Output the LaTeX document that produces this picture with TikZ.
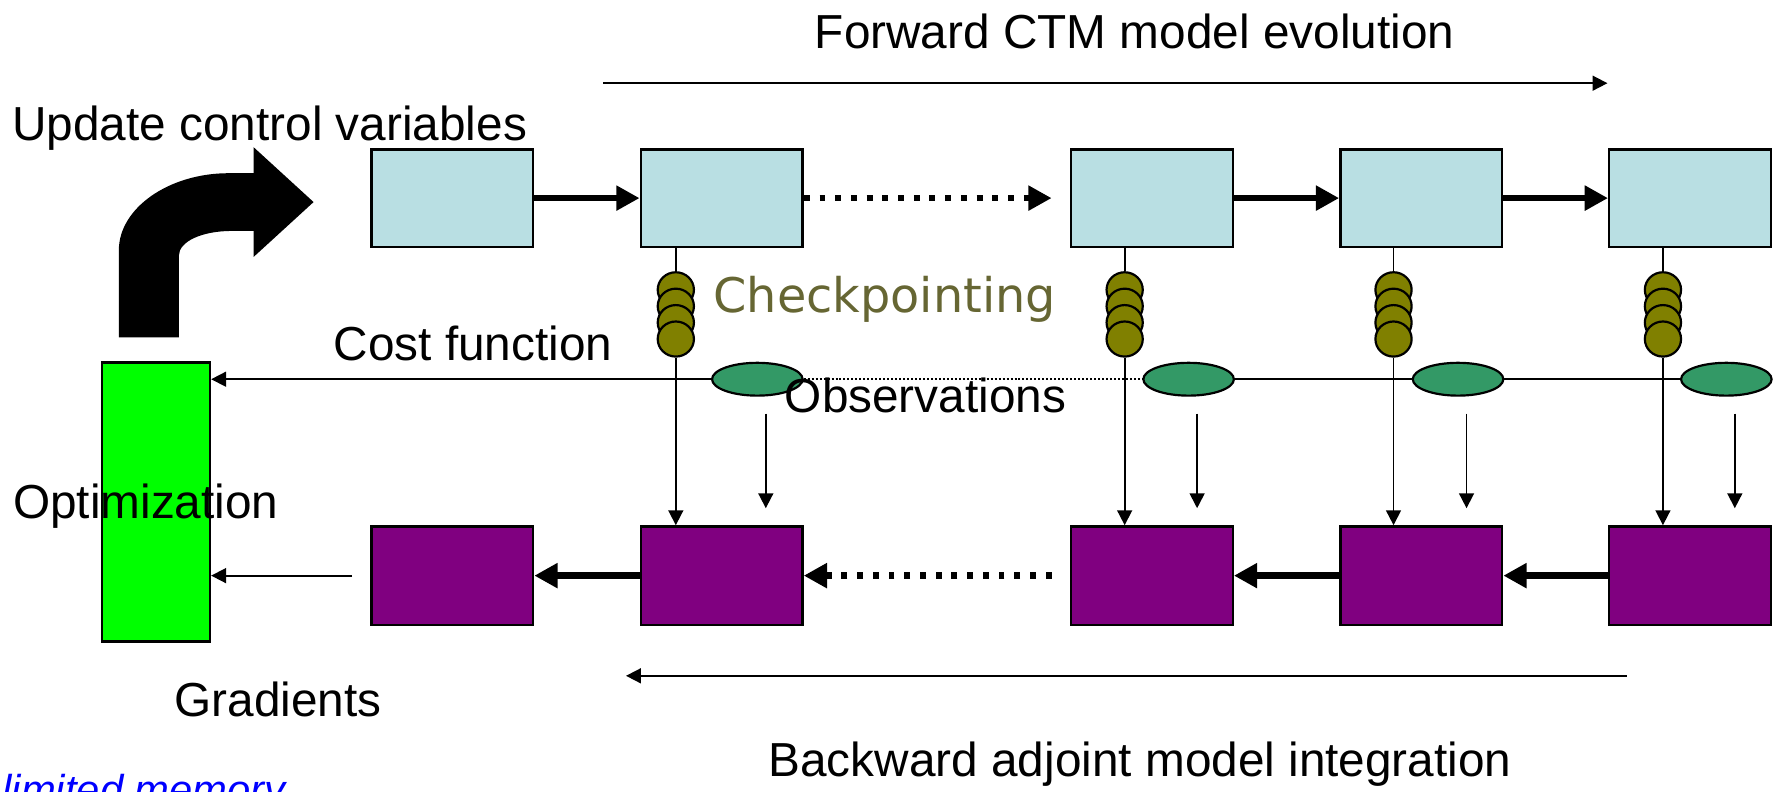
\documentclass[tikz,border=0pt]{standalone}
\usepackage{fontspec}
\setmainfont{Liberation Sans}
\newfontfamily\cpfont{DejaVu Sans}
\usetikzlibrary{arrows.meta,shapes.geometric,calc}
\definecolor{fwd}{RGB}{185,223,227}
\definecolor{adj}{RGB}{128,0,128}
\definecolor{optg}{RGB}{0,255,0}
\definecolor{chk}{RGB}{128,128,0}
\definecolor{obs}{RGB}{51,153,102}
\definecolor{chktxt}{RGB}{102,102,51}
\begin{document}
\begin{tikzpicture}[x=0.02cm,y=-0.02cm,
  fbox/.style={draw=black,line width=1.2pt,fill=fwd,minimum width=2.86cm,minimum height=1.72cm,inner sep=0},
  abox/.style={fbox,fill=adj,minimum height=1.74cm},
  cpt/.style={ellipse,draw=black,line width=1.1pt,fill=chk,minimum width=0.64cm,minimum height=0.62cm,inner sep=0},
  obsv/.style={ellipse,draw=black,line width=1.1pt,fill=obs,minimum width=1.6cm,minimum height=0.58cm,inner sep=0},
  lbl/.style={font=\fontsize{24}{28}\selectfont,inner sep=0,anchor=base west},
  thin line/.style={line width=0.9pt},
  fatarrow/.style={line width=3.4pt,-{Triangle[length=11.7pt,width=12pt]}},
  thinarrow/.style={line width=0.9pt,-{Triangle[length=7.5pt,width=7.5pt]}},
  dotarrow/.style={fatarrow,dash pattern=on 3pt off 4.9pt},
]
\clip (0,0) rectangle (1568,699);
\fill[white] (0,0) rectangle (1568,699);

% forward boxes
\node[fbox] (t1) at (399.5,175) {};
\node[fbox] (t2) at (637.5,175) {};
\node[fbox] (t3) at (1017.5,175) {};
\node[fbox] (t4) at (1255.5,175) {};
\node[fbox] (t5) at (1493,175) {};
% adjoint boxes
\node[abox] (b1) at (399.5,508.5) {};
\node[abox] (b2) at (637.5,508.5) {};
\node[abox] (b3) at (1017.5,508.5) {};
\node[abox] (b4) at (1255.5,508.5) {};
\node[abox] (b5) at (1493,508.5) {};
% optimization box
\node[draw=black,line width=1.2pt,fill=optg,minimum width=1.91cm,minimum height=4.93cm,inner sep=0] (opt) at (137.75,443.6) {};

% forward arrows
\draw[fatarrow] (t1.east) -- (t2.west);
\draw[dotarrow] (t2.east) -- ([xshift=-0.32cm]t3.west);
\draw[fatarrow] (t3.east) -- (t4.west);
\draw[fatarrow] (t4.east) -- (t5.west);
% adjoint arrows
\draw[fatarrow] (b2.west) -- (b1.east);
\draw[dotarrow] ([xshift=-0.32cm]b3.west) -- (b2.east);
\draw[fatarrow] (b4.west) -- (b3.east);
\draw[fatarrow] (b5.west) -- (b4.east);
\draw[thinarrow] ([xshift=-0.32cm]b1.west) -- (opt.east |- b1.west);

% observations
\node[obsv] (e1) at (669,335) {};
\node[obsv] (e2) at (1050,335) {};
\node[obsv] (e3) at (1288,335) {};
\node[obsv] (e4) at (1525,335) {};
\draw[thinarrow] (e1.west) -- (opt.east |- e1.west);
\draw[thin line,dash pattern=on 1pt off 1pt] (e1.east) -- (e2.west);
\draw[thin line] (e2.east) -- (e3.west);
\draw[thin line] (e3.east) -- (e4.west);

% checkpoint stacks and vertical links
\foreach \k/\x/\e in {2/597/1,3/993.5/2,4/1231/3,5/1469/4}{
  \node[cpt] (cp\k-1) at (\x,256) {};
  \node[cpt] (cp\k-2) at (\x,270.5) {};
  \node[cpt] (cp\k-3) at (\x,285) {};
  \node[cpt] (cp\k-4) at (\x,299.5) {};
  \draw[thin line] (t\k.south -| cp\k-1) -- (cp\k-1.north);
  \draw[thinarrow] (cp\k-4.south) -- (b\k.north -| cp\k-4);
  \coordinate (os\k) at ($(e\e.south)+(7.5,15)$);
  \coordinate (oe\k) at ($(os\k |- b\k.north)+(0,-15)$);
  \draw[thinarrow] (os\k) -- (oe\k);
}

% big curved arrow
\fill[black] (105,298) -- (105,221) .. controls (105,184) and (149,153) .. (202,153)
  -- (224,153) -- (224,130) -- (277,178.5) -- (224,227) -- (224,204) -- (205,204)
  .. controls (179,204) and (158,213) .. (158,226) -- (158,298) -- cycle;

% long direction arrows
\coordinate (fa) at (533,73.5);
\coordinate (fb) at (1420,73.5);
\draw[thinarrow] (fa) -- (fb);
\coordinate (ba) at (1437,597);
\coordinate (bb) at (553,597);
\draw[thinarrow] (ba) -- (bb);

% labels
\node[lbl] (tf) at (719.5,43) {Forward CTM model evolution};
\node[lbl] (tu) at (10.5,124) {Update control variables};
\node[lbl] (tc) at (294.5,318.5) {Cost function};
\node[lbl,font=\cpfont\fontsize{24}{28}\selectfont,text=chktxt] (tk) at (630,276) {Checkpointing};
\node[lbl] (to) at (693,364) {Observations};
\node[lbl] (tz) at (11.3,458) {Optimization};
\node[lbl] (tg) at (154,632.5) {Gradients};
\node[lbl] (tb) at (678.6,686) {Backward adjoint model integration};
\node[lbl,font=\itshape\fontsize{21}{25}\selectfont,text=blue] (tl) at (2,711) {limited memory};
\end{tikzpicture}
\end{document}
